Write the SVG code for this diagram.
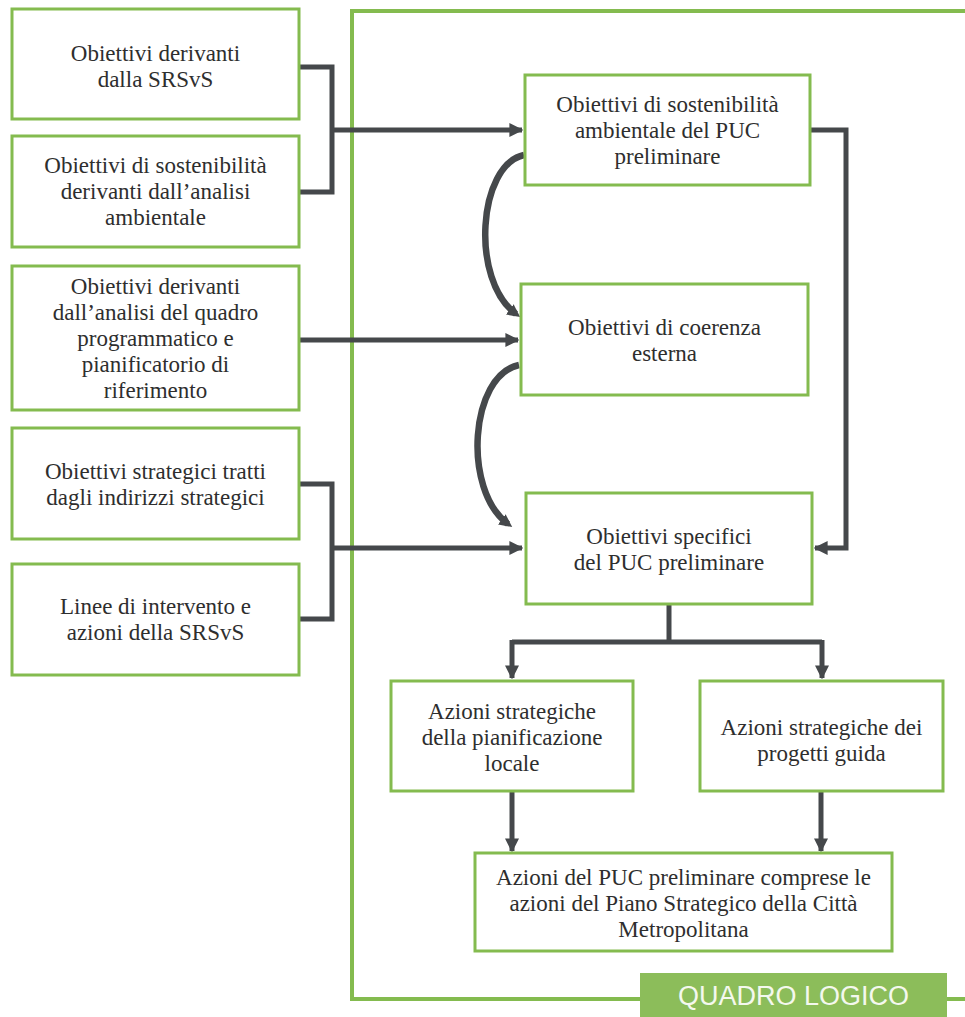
<svg xmlns="http://www.w3.org/2000/svg" width="965" height="1017" viewBox="0 0 965 1017">
<style>
.box{fill:#ffffff;stroke:#84bb4f;stroke-width:3}
.t{font-family:"Liberation Serif","Times New Roman",serif;font-size:23px;fill:#2e2e2e;text-anchor:middle}
.c{fill:none;stroke:#45484b;stroke-width:5}
.cv{fill:none;stroke:#45484b;stroke-width:6.5;stroke-linecap:butt}
.frame{fill:none;stroke:#84bb4f;stroke-width:4}
.lbl{font-family:"Liberation Sans",Arial,sans-serif;font-size:27px;fill:#f4f8ee;text-anchor:middle}
</style>
<defs>
<marker id="ah" viewBox="0 0 10 10" refX="9" refY="5" markerWidth="2.8" markerHeight="2.8" orient="auto" markerUnits="strokeWidth">
<path d="M0,0 L10,5 L0,10 z" fill="#45484b"/>
</marker>
<marker id="ahc" viewBox="0 0 10 10" refX="6" refY="5" markerWidth="2" markerHeight="2" orient="auto" markerUnits="strokeWidth">
<path d="M0,0 L10,5 L0,10 z" fill="#45484b"/>
</marker>
</defs>
<rect width="965" height="1017" fill="#ffffff"/>

<g id="frame">
<path class="frame" d="M965,11 H352 V999 H965"/>
<rect x="640" y="973" width="307" height="44" fill="#8cbd5a"/>
<text class="lbl" x="793.5" y="1005">QUADRO LOGICO</text>
</g>

<g id="connectors">
<path class="c" d="M299,67 H332 V192 H299"/>
<path class="c" d="M332,130 H522" marker-end="url(#ah)"/>
<path class="c" d="M299,340 H518" marker-end="url(#ah)"/>
<path class="c" d="M299,484 H332 V619 H299"/>
<path class="c" d="M332,548 H522" marker-end="url(#ah)"/>
<path class="c" d="M810,130 H846 V548 H815" marker-end="url(#ah)"/>
<path class="cv" d="M524,155 C478,165 470,280 516,314" marker-end="url(#ahc)"/>
<path class="cv" d="M519,365 C470,375 462,490 508,524" marker-end="url(#ahc)"/>
<path class="c" d="M669,604 V642"/>
<path class="c" d="M512,642 H822"/>
<path class="c" d="M512,640 V678" marker-end="url(#ah)"/>
<path class="c" d="M822,640 V678" marker-end="url(#ah)"/>
<path class="c" d="M512,792 V851" marker-end="url(#ah)"/>
<path class="c" d="M821,792 V851" marker-end="url(#ah)"/>
</g>

<g id="n1">
<rect class="box" x="12" y="9" width="287" height="110"/>
<text class="t" x="155.5" y="61">Obiettivi derivanti</text>
<text class="t" x="155.5" y="87">dalla SRSvS</text>
</g>
<g id="n2">
<rect class="box" x="12" y="136" width="287" height="111"/>
<text class="t" x="155.5" y="173">Obiettivi di sostenibilità</text>
<text class="t" x="155.5" y="199">derivanti dall’analisi</text>
<text class="t" x="155.5" y="225">ambientale</text>
</g>
<g id="n3">
<rect class="box" x="12" y="266" width="287" height="144"/>
<text class="t" x="155.5" y="294">Obiettivi derivanti</text>
<text class="t" x="155.5" y="320">dall’analisi del quadro</text>
<text class="t" x="155.5" y="346">programmatico e</text>
<text class="t" x="155.5" y="372">pianificatorio di</text>
<text class="t" x="155.5" y="398">riferimento</text>
</g>
<g id="n4">
<rect class="box" x="12" y="428" width="287" height="111"/>
<text class="t" x="155.5" y="479">Obiettivi strategici tratti</text>
<text class="t" x="155.5" y="505">dagli indirizzi strategici</text>
</g>
<g id="n5">
<rect class="box" x="12" y="564" width="287" height="111"/>
<text class="t" x="155.5" y="614">Linee di intervento e</text>
<text class="t" x="155.5" y="640">azioni della SRSvS</text>
</g>
<g id="n6">
<rect class="box" x="525" y="75" width="285" height="110"/>
<text class="t" x="667.5" y="112">Obiettivi di sostenibilità</text>
<text class="t" x="667.5" y="138">ambientale del PUC</text>
<text class="t" x="667.5" y="164">preliminare</text>
</g>
<g id="n7">
<rect class="box" x="521" y="284" width="287" height="111"/>
<text class="t" x="664.5" y="335">Obiettivi di coerenza</text>
<text class="t" x="664.5" y="361">esterna</text>
</g>
<g id="n8">
<rect class="box" x="526" y="493" width="286" height="111"/>
<text class="t" x="669" y="544">Obiettivi specifici</text>
<text class="t" x="669" y="570">del PUC preliminare</text>
</g>
<g id="n9">
<rect class="box" x="391" y="681" width="242" height="110"/>
<text class="t" x="512" y="719">Azioni strategiche</text>
<text class="t" x="512" y="745">della pianificazione</text>
<text class="t" x="512" y="771">locale</text>
</g>
<g id="n10">
<rect class="box" x="700" y="681" width="243" height="110"/>
<text class="t" x="821.5" y="735">Azioni strategiche dei</text>
<text class="t" x="821.5" y="761">progetti guida</text>
</g>
<g id="n11">
<rect class="box" x="475" y="853" width="417" height="98"/>
<text class="t" x="683.5" y="885">Azioni del PUC preliminare comprese le</text>
<text class="t" x="683.5" y="911">azioni del Piano Strategico della Città</text>
<text class="t" x="683.5" y="937">Metropolitana</text>
</g>
</svg>
